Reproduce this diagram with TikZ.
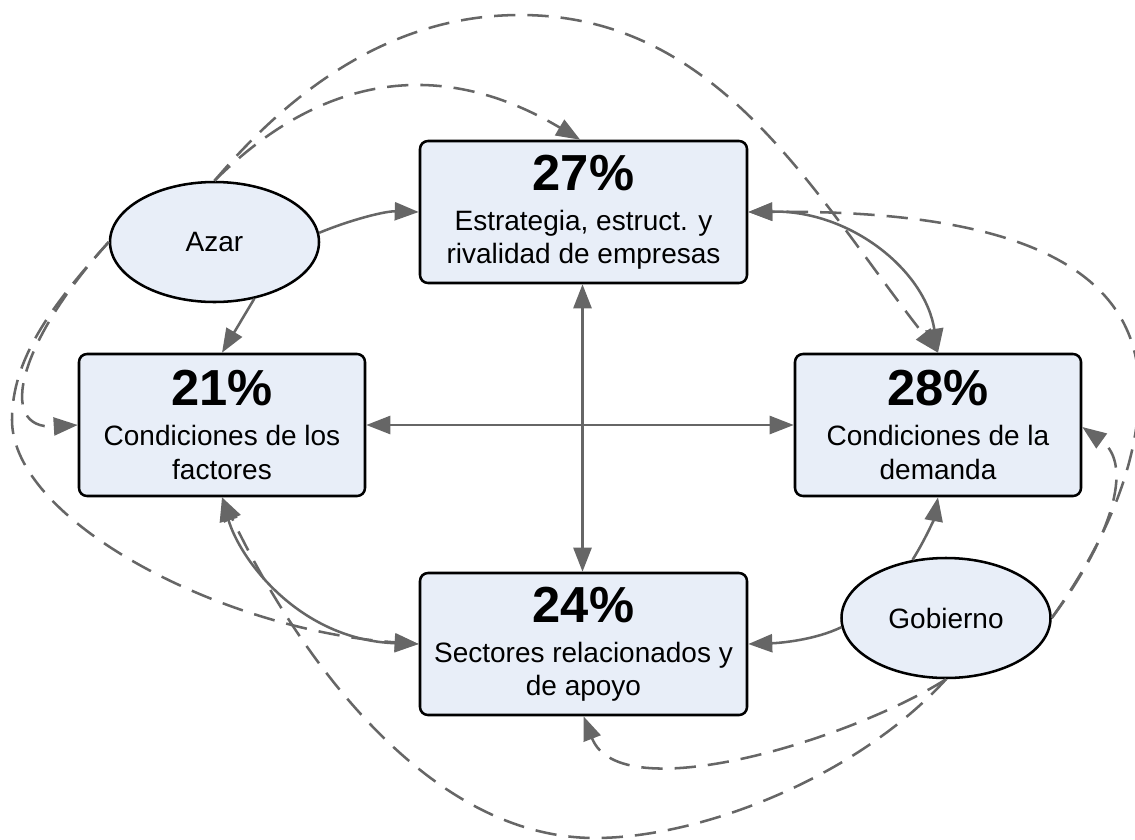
\documentclass[tikz,border=0pt]{standalone}
\usepackage{fontspec}
\setmainfont{Liberation Sans}
\usetikzlibrary{shapes.geometric,arrows.meta}
\definecolor{boxfill}{RGB}{232,238,248}
\definecolor{linegray}{RGB}{102,102,102}
\newcommand\pctfont{\fontsize{38}{38}\selectfont\bfseries}
\begin{document}
\begin{tikzpicture}[x=0.75pt,y=-0.75pt,
  >={Triangle[length=18pt,width=13.5pt]},
  factorbox/.style={draw=black,line width=1.9pt,rounded corners=6pt,fill=boxfill,
    align=center,inner sep=0pt,minimum height=106.5pt,
    font=\fontsize{21}{25}\selectfont},
  agent/.style={ellipse,draw=black,line width=1.9pt,fill=boxfill,inner sep=0pt,
    minimum width=156.75pt,minimum height=90pt,font=\fontsize{21}{25}\selectfont},
  conn/.style={draw=linegray,line width=1.9pt},
  dconn/.style={draw=linegray,line width=1.9pt,dash pattern=on 16pt off 9pt}]
\useasboundingbox (0,0) rectangle (1135,839);
% boxes
\node[factorbox,minimum width=245.25pt] (tbox) at (583.5,212)
  {{\pctfont 27\%}\\[5pt]Estrategia, estruct. y\\rivalidad de empresas};
\node[factorbox,minimum width=214.5pt] (lbox) at (222,425)
  {{\pctfont 21\%}\\[5pt]Condiciones de los\\factores};
\node[factorbox,minimum width=214.5pt] (rbox) at (938,425)
  {{\pctfont 28\%}\\[5pt]Condiciones de la\\demanda};
\node[factorbox,minimum width=245.25pt] (bbox) at (583.5,644)
  {{\pctfont 24\%}\\[5pt]Sectores relacionados y\\de apoyo};
% agents
\node[agent] (azar) at (214.5,242) {Azar};
\node[agent] (gob) at (946,618) {Gobierno};
% solid connectors
\draw[conn,->] (azar.5) .. controls (350,220) and (385,211) .. (tbox.west);
\draw[conn,->] (azar.-55) -- (lbox.north);
\draw[conn,<->] (lbox.east) -- (rbox.west);
\draw[conn,<->] ([xshift=-0.75pt]tbox.south) -- ([xshift=-0.75pt]bbox.north);
\draw[conn,<->] (tbox.east) .. controls (850,210) and (925,270) .. (rbox.north);
\draw[conn,<->] (lbox.south) .. controls (240,560) and (300,640) .. (bbox.west);
\draw[conn,->] (gob.120) .. controls (925,540) and (934,519) .. (rbox.south);
\draw[conn,->] (gob.185) .. controls (815,640) and (780,643) .. (bbox.east);
% dashed connectors
\draw[dconn,->] (azar.north) .. controls (324,72) and (443,58) .. ([xshift=-2.5pt]tbox.north);
\draw[dconn,->] (azar.north) .. controls (300,80) and (400,15) .. (520,15)
  .. controls (720,15) and (814,195) .. (rbox.north);
\draw[dconn,->] (azar.west) .. controls (20,340) and (-5,430) .. (lbox.west);
\draw[dconn,->] (azar.west) .. controls (50,307) and (12,360) .. (12,420)
  .. controls (12,520) and (220,630) .. (bbox.west);
\draw[dconn,->] (gob.east) .. controls (1100,550) and (1139,470) .. (1139,390)
  .. controls (1139,255) and (990,210) .. (tbox.east);
\draw[dconn,->] (gob.east) .. controls (1110,540) and (1135,465) .. ([yshift=-1.5pt]rbox.east);
\draw[dconn,->] (gob.south) .. controls (850,740) and (620,810) .. (bbox.south);
\draw[dconn,->] (gob.south) .. controls (856,778) and (700,838) .. (595,838)
  .. controls (430,838) and (300,660) .. (lbox.south);
\end{tikzpicture}
\end{document}
